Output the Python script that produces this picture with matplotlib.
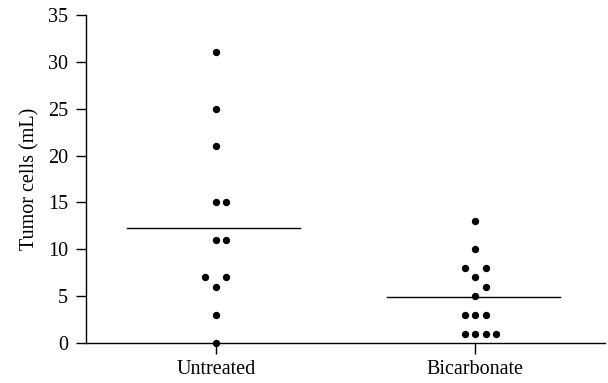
import matplotlib.pyplot as plt
import numpy as np

plt.rcParams['font.family'] = ['Liberation Serif', 'DejaVu Serif']

groups = ['Untreated', 'Bicarbonate']
untreated = [31, 25, 21, 15, 15, 11, 11, 7, 7, 6, 3, 0]
bicarbonate = [13, 10, 8, 8, 7, 6, 5, 3, 3, 3, 1, 1, 1, 1]
group_means = [12.3, 4.95]  # horizontal lines

fig = plt.figure(figsize=(6.08, 3.83), dpi=100)
ax = fig.add_axes([0.1414, 0.1044, 0.8536, 0.8566])
ax.set_xlim(-0.5, 1.5)
ax.set_ylim(0, 35)

# simple column-scatter (beeswarm) layout, done in pixel space
slot_px = 10.5
min_dist = 10.0
px_per_x = ax.transData.transform((1, 0))[0] - ax.transData.transform((0, 0))[0]
px_per_y = ax.transData.transform((0, 1))[1] - ax.transData.transform((0, 0))[1]

def swarm(values, center):
    placed = []
    xs, ys = [], []
    order = [0]
    for i in range(1, 10):
        order += [i, -i]
    for v in sorted(values):
        k = 0
        for s in order:
            ok = True
            for (ps, pv) in placed:
                d = np.hypot((s - ps) * slot_px, (v - pv) * px_per_y)
                if d < min_dist:
                    ok = False
                    break
            if ok:
                k = s
                break
        placed.append((k, v))
        xs.append(center + k * slot_px / px_per_x)
        ys.append(v)
    return xs, ys

for i, vals in enumerate([untreated, bicarbonate]):
    xs, ys = swarm(vals, i)
    ax.scatter(xs, ys, s=28, color='black', zorder=3, clip_on=False, linewidths=0)
    ax.plot([i - 0.34, i + 0.325], [group_means[i]] * 2, color='black', lw=1.0, zorder=2)

ax.spines['top'].set_visible(False)
ax.spines['right'].set_visible(False)
ax.spines['left'].set_linewidth(1.0)
ax.spines['bottom'].set_linewidth(1.0)

ax.set_yticks(range(0, 36, 5))
ax.set_xticks([0, 1])
ax.set_xticklabels(groups)
ax.tick_params(axis='both', direction='out', length=7, width=1.0, labelsize=14.5, colors='black')
ax.tick_params(axis='y', pad=6)
ax.tick_params(axis='x', length=8, pad=4)
ax.set_ylabel('Tumor cells (mL)', fontsize=14.5, labelpad=6)

fig.savefig('out.png', dpi=100)
